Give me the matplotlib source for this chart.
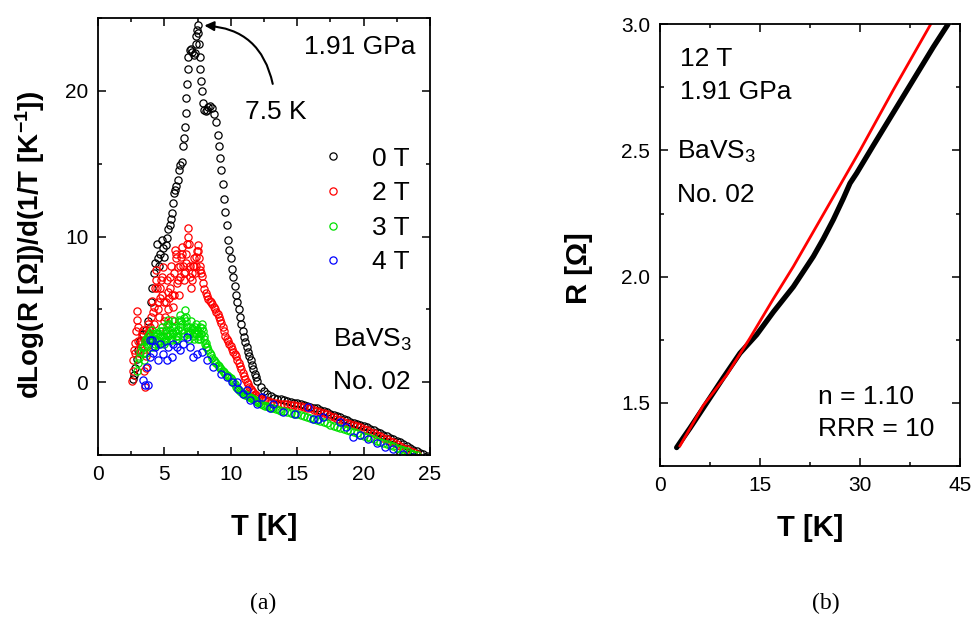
# BaVS3 No. 02 at 1.91 GPa: (a) dLog(R)/d(1/T) vs T for several fields, (b) R vs T at 12 T with power-law fit

import matplotlib
matplotlib.use('Agg')
import matplotlib.pyplot as plt
from matplotlib.ticker import MultipleLocator

plt.rcParams['font.family'] = ['Liberation Sans', 'DejaVu Sans']
plt.rcParams['mathtext.default'] = 'regular'

#################################################################################
# dados (painel a)

T_0T = [2.6, 2.7, 2.8, 2.9, 3.0, 3.2, 3.4, 3.6, 3.8, 4.0, 4.1, 4.2, 4.3, 4.45, 4.5, 4.6, 4.7, 4.8,
        4.9, 5.0, 5.1, 5.2, 5.3, 5.42, 5.5, 5.57, 5.65, 5.75, 5.8, 5.9, 6.0, 6.1, 6.2, 6.3, 6.4,
        6.5, 6.55, 6.6, 6.65, 6.7, 6.75, 6.8, 6.9, 7.0, 7.1, 7.2, 7.3, 7.35, 7.4, 7.45, 7.5, 7.55,
        7.6, 7.65, 7.7, 7.75, 7.8, 7.9, 8.0, 8.1, 8.2, 8.3, 8.45, 8.6, 8.75, 8.9, 9.0, 9.1, 9.2,
        9.3, 9.4, 9.5, 9.6, 9.7, 9.8, 9.9, 10.0, 10.1, 10.2, 10.3, 10.4, 10.5, 10.6, 10.7, 10.8,
        10.9, 11.0, 11.1, 11.2, 11.3, 11.4, 11.5, 11.6, 11.7, 11.8, 11.9, 12.0, 12.25, 12.5, 12.75,
        13.0, 13.25, 13.5, 13.75, 14.0, 14.25, 14.5, 14.75, 15.0, 15.25, 15.5, 15.75, 16.0, 16.25,
        16.5, 16.75, 17.0, 17.25, 17.5, 17.75, 18.0, 18.25, 18.5, 18.75, 19.0, 19.25, 19.5, 19.75,
        20.0, 20.25, 20.5, 20.75, 21.0, 21.25, 21.5, 21.75, 22.0, 22.25, 22.5, 22.75, 23.0, 23.25,
        23.5, 23.75, 24.0, 24.25, 24.5, 24.75]
v_0T = [0.2, 0.5, 1.0, 1.6, 2.2, 2.8, 3.3, 3.6, 4.2, 5.5, 6.5, 7.5, 8.2, 9.5, 8.5, 8.0, 8.8, 9.8,
        9.2, 8.6, 9.4, 9.9, 10.5, 10.8, 11.2, 11.6, 12.3, 13.0, 13.2, 13.5, 13.9, 14.6, 14.9, 15.1, 16.2,
        16.8, 17.5, 18.5, 19.5, 20.5, 21.5, 22.3, 22.8, 22.9, 22.7, 22.5, 22.6, 23.2, 23.8, 24.2, 24.5, 24.0,
        23.2, 22.3, 21.5, 20.7, 20.0, 19.2, 18.7, 18.6, 18.7, 18.9, 19.0, 18.8, 18.4, 17.9, 17.0, 16.2, 15.4,
        14.6, 13.6, 12.6, 11.7, 10.8, 9.8, 9.1, 8.5, 7.8, 7.2, 6.6, 6.0, 5.5, 5.0, 4.5, 4.0,
        3.5, 3.1, 2.75, 2.4, 2.1, 1.8, 1.5, 1.2, 0.9, 0.6, 0.35, 0.1, -0.35, -0.6, -0.8,
        -0.95, -1.05, -1.12, -1.18, -1.25, -1.3, -1.35, -1.4, -1.45, -1.5, -1.55, -1.62, -1.7, -1.75,
        -1.8, -1.88, -1.95, -2.05, -2.15, -2.22, -2.3, -2.4, -2.5, -2.6, -2.7, -2.78, -2.85, -2.92,
        -3.0, -3.1, -3.2, -3.3, -3.4, -3.5, -3.6, -3.7, -3.8, -3.9, -4.0, -4.12, -4.25, -4.38,
        -4.5, -4.62, -4.75, -4.85, -4.95, -5.05]

T_2T = [2.55, 2.6, 2.65, 2.7, 2.75, 2.8, 2.85, 2.9, 2.95, 3.0, 3.05, 3.1, 3.2, 3.3, 3.4, 3.45, 3.5,
        3.55, 3.6, 3.7, 3.8, 3.9, 4.0, 4.1, 4.2, 4.3, 4.4, 4.5, 4.6, 4.7, 4.8, 4.9, 5.0, 5.1, 5.2,
        5.3, 5.4, 5.5, 5.6, 5.7, 5.8, 5.9, 6.0, 6.1, 6.2, 6.3, 6.4, 6.5, 6.6, 6.7, 6.8, 6.85, 6.9,
        7.0, 7.1, 7.2, 7.3, 7.4, 7.5, 7.6, 7.7, 7.8, 7.9, 8.0, 8.2, 8.4, 8.6, 8.8, 9.0, 9.2, 9.4,
        9.6, 9.8, 10.0, 10.2, 10.4, 10.6, 10.8, 11.0, 11.2, 11.4, 11.6, 11.8, 12.0, 12.3, 12.6, 13.0,
        13.5, 14.0, 14.5, 15.0, 15.5, 16.0, 16.5, 17.0, 17.5, 18.0, 18.5, 19.0, 19.5, 20.0, 20.5,
        21.0, 21.5, 22.0, 22.5, 23.0, 23.5, 24.0,
        # colunas densas de pontos entre 3 K e 8 K
        3.25, 3.35, 3.65, 3.75, 3.85, 3.95, 4.05, 4.15, 4.25, 4.35, 4.45, 4.55, 4.65, 4.75, 4.85,
        4.95, 5.05, 5.15, 5.25, 5.35, 5.45, 5.55, 5.65, 5.75, 5.85, 5.95, 6.05, 6.15, 6.25, 6.35,
        6.45, 6.55, 6.65, 6.75, 6.95, 7.05, 7.15, 7.25, 7.35, 7.45, 7.55, 7.65, 7.75,
        # cauda
        8.1, 8.3, 8.5, 8.7, 8.9, 9.1, 9.3, 9.5, 9.7, 9.9, 10.1, 10.3, 10.5, 10.7, 10.9, 11.1, 11.3,
        11.5, 11.7, 11.9, 12.15, 12.45, 12.8, 13.25, 13.75, 14.25, 14.75, 15.25, 15.75, 16.25,
        16.75, 17.25, 17.75, 18.25, 18.75, 19.25, 19.75, 20.25, 20.75, 21.25, 21.75, 22.25, 22.75,
        23.25, 23.75]
v_2T = [0.1, 0.8, 1.5, 2.2, 2.7, 2.0, 3.5, 4.3, 4.9, 3.8, 2.8, 2.0, 2.6, 3.2, 3.6, 2.0, 0.8,
        -0.3, 1.0, 2.5, 4.0, 3.0, 4.5, 5.6, 4.0, 6.5, 7.7, 5.5, 4.5, 6.5, 7.2, 7.9, 5.5, 3.6, 7.0,
        5.0, 6.5, 8.0, 4.3, 6.0, 9.1, 8.5, 7.9, 6.0, 8.0, 9.3, 8.0, 7.0, 8.2, 9.5, 10.6, 9.5, 8.0,
        6.5, 7.5, 8.5, 7.5, 8.6, 9.4, 8.5, 7.7, 7.3, 6.8, 6.4, 5.9, 5.6, 5.4, 5.0, 4.7, 4.3, 3.8,
        3.2, 2.8, 2.5, 2.1, 1.8, 1.3, 0.9, 0.4, 0.0, -0.3, -0.6, -0.8, -1.0, -1.15, -1.25, -1.35,
        -1.45, -1.5, -1.55, -1.6, -1.7, -1.8, -1.95, -2.1, -2.3, -2.5, -2.7, -2.85, -3.0, -3.2, -3.4,
        -3.6, -3.8, -4.0, -4.25, -4.5, -4.7, -4.9,
        2.8, 3.4, 1.8, 3.3, 3.6, 3.8, 3.0, 4.8, 5.2, 7.0, 6.5, 5.0, 5.8, 7.0, 6.0,
        4.2, 4.5, 5.5, 6.2, 5.8, 7.2, 6.0, 5.2, 7.5, 8.8, 6.8, 7.0, 7.2, 8.6, 8.8,
        7.5, 7.6, 8.8, 10.0, 7.2, 7.0, 8.0, 8.0, 8.0, 9.0, 9.0, 8.0, 7.5,
        6.1, 5.75, 5.5, 5.2, 4.85, 4.5, 4.05, 3.5, 3.0, 2.65, 2.3, 1.95, 1.55, 1.1, 0.65, 0.2, -0.15,
        -0.45, -0.7, -0.9, -1.08, -1.2, -1.3, -1.4, -1.48, -1.52, -1.58, -1.65, -1.75, -1.88,
        -2.02, -2.2, -2.4, -2.6, -2.78, -2.92, -3.1, -3.3, -3.5, -3.7, -3.9, -4.12, -4.38,
        -4.6, -4.8]

T_3T = [2.95, 3.0, 3.1, 3.2, 3.3, 3.4, 3.5, 3.6, 3.7, 3.8, 3.9, 4.0, 4.1, 4.2, 4.3, 4.4, 4.5, 4.6,
        4.7, 4.8, 4.9, 5.0, 5.1, 5.2, 5.3, 5.4, 5.5, 5.6, 5.7, 5.8, 5.9, 6.0, 6.1, 6.2, 6.3, 6.4,
        6.5, 6.55, 6.6, 6.7, 6.8, 6.9, 7.0, 7.1, 7.2, 7.3, 7.4, 7.5, 7.6, 7.7, 7.8, 7.9, 8.0, 8.1,
        8.2, 8.3, 8.4, 8.5, 8.6, 8.7, 8.8, 8.9, 9.0, 9.2, 9.4, 9.6, 9.8, 10.0, 10.2, 10.4, 10.6,
        10.8, 11.0, 11.2, 11.4, 11.6, 11.8, 12.0, 12.3, 12.6, 12.9, 13.2, 13.6, 14.0, 14.5, 15.0,
        15.5, 16.0, 16.5, 17.0, 17.5, 18.0, 18.5, 19.0, 19.5, 20.0, 20.5, 21.0, 21.5, 22.0, 22.5,
        23.0, 23.5, 24.0,
        # colunas densas de pontos entre 3 K e 8 K
        3.45, 3.55, 3.65, 3.75, 4.05, 4.15, 4.25, 4.35, 4.55, 4.65, 4.75, 4.85, 4.95, 5.05, 5.15,
        5.25, 5.35, 5.45, 5.55, 5.65, 5.75, 5.85, 5.95, 6.05, 6.15, 6.25, 6.35, 6.45, 6.65, 6.75,
        6.85, 6.95, 7.05, 7.15, 7.25, 7.35, 7.45, 7.55, 7.65, 7.75, 7.85, 7.95, 8.05, 8.15,
        # cauda
        9.1, 9.3, 9.5, 9.7, 9.9, 10.1, 10.3, 10.5, 10.7, 10.9, 11.1, 11.3, 11.5, 11.7, 11.9, 12.15,
        12.45, 12.75, 13.05, 13.4, 13.8, 14.25, 14.75, 15.25, 15.75, 16.25, 16.75, 17.25, 17.75,
        18.25, 18.75, 19.25, 19.75, 20.25, 20.75, 21.25, 21.75, 22.25, 22.75, 23.25, 23.75]
v_3T = [0.8, 1.3, 1.7, 2.1, 2.4, 2.0, 2.4, 3.0, 2.6, 3.2, 3.4, 3.0, 3.6, 3.2, 2.6, 3.0, 3.3, 2.8,
        3.5, 3.8, 3.2, 2.6, 3.4, 3.9, 4.3, 3.6, 3.0, 3.8, 4.2, 3.5, 3.0, 3.6, 4.3, 4.6, 4.0, 3.4,
        4.4, 4.95, 4.5, 3.8, 3.3, 3.8, 4.2, 3.7, 3.4, 3.8, 4.0, 3.5, 3.2, 3.8, 4.0, 3.5, 3.0, 2.7,
        2.4, 2.2, 2.0, 1.9, 1.7, 1.5, 1.4, 1.3, 1.2, 1.0, 0.8, 0.6, 0.45, 0.3, 0.0, -0.3, -0.5,
        -0.7, -0.8, -0.9, -1.0, -1.1, -1.2, -1.35, -1.5, -1.6, -1.7, -1.8, -1.9, -2.0, -2.1, -2.2,
        -2.3, -2.45, -2.6, -2.75, -2.9, -3.05, -3.2, -3.35, -3.5, -3.7, -3.85, -4.0, -4.15, -4.3, -4.5,
        -4.65, -4.85, -5.0,
        1.5, 2.8, 2.0, 2.9, 2.4, 3.3, 2.5, 3.4, 2.6, 3.2, 2.7, 3.5, 2.8, 3.0, 2.8,
        3.2, 4.0, 3.3, 2.9, 3.4, 3.8, 3.2, 2.9, 3.2, 3.8, 4.2, 3.6, 3.2, 4.2, 3.5,
        3.0, 3.4, 3.6, 3.2, 3.0, 3.3, 3.6, 3.0, 3.0, 3.3, 3.7, 3.2, 2.6, 2.4,
        1.1, 0.9, 0.7, 0.5, 0.38, 0.15, -0.15, -0.4, -0.6, -0.75, -0.85, -0.95, -1.05, -1.15, -1.28,
        -1.42, -1.55, -1.65, -1.75, -1.85, -1.95, -2.05, -2.15, -2.25, -2.38, -2.52, -2.68, -2.82,
        -2.98, -3.12, -3.28, -3.42, -3.6, -3.78, -3.92, -4.08, -4.22, -4.4, -4.58, -4.75, -4.92]

T_4T = [3.41, 3.54, 3.66, 3.79, 3.92, 3.92, 4.04, 4.15, 4.29, 4.54, 4.67, 4.92, 5.17, 5.3, 5.55,
        5.67, 5.92, 6.17, 6.42, 6.68, 6.93, 7.18, 7.43, 7.8, 8.18, 8.68, 9.3, 9.7, 10.07, 10.44,
        10.57, 10.95, 11.2, 11.45, 11.95, 12.33, 12.95, 13.2, 13.95, 14.83, 15.84, 16.2, 16.6,
        16.97, 18.2, 18.7, 19.2, 19.7, 20.35, 21.0, 21.6, 22.2, 23.0, 23.7]
v_4T = [0.14, -0.2, 1.05, -0.2, 1.74, 2.9, 2.9, 2.0, 2.4, 1.5, 2.66, 1.97, 1.5, 2.4, 1.74,
        2.66, 2.4, 2.2, 2.66, 3.1, 2.4, 1.74, 1.97, 2.1, 1.5, 1.05, 0.6, 0.36, 0.02, 0.02,
        -0.44, -0.78, -0.55, -1.24, -1.47, -1.0, -1.8, -1.47, -2.04, -2.15, -1.7, -2.5, -2.5,
        -2.38, -2.7, -3.07, -3.76, -3.64, -3.87, -4.2, -4.45, -4.56, -4.9, -5.1]

series_a = [(T_0T, v_0T, 'black', '0 T'),
            (T_2T, v_2T, 'red', '2 T'),
            (T_3T, v_3T, '#00e000', '3 T'),
            (T_4T, v_4T, 'blue', '4 T')]

# dados (painel b)
T_b = [2.5, 3.5, 4.5, 6.0, 7.75, 9.5, 12.0, 14.5, 17.0, 20.0, 23.0, 24.5, 26.0, 27.5, 28.5,
       29.5, 32.0, 35.0, 38.0, 41.0, 43.2]
R_b = [1.323, 1.362, 1.40, 1.46, 1.53, 1.60, 1.697, 1.77, 1.86, 1.96, 2.08, 2.15, 2.226, 2.31,
       2.37, 2.41, 2.52, 2.65, 2.78, 2.91, 3.0]

T_fit = [3.0, 6.5, 10.0, 13.5, 17.0, 20.0, 25.0, 30.0, 35.0, 40.6]
R_fit = [1.33, 1.49, 1.61, 1.757, 1.912, 2.04, 2.27, 2.50, 2.74, 3.0]

#################################################################################

fig = plt.figure(figsize=(9.77, 6.26), dpi=100)

ax1 = fig.add_axes([0.1003, 0.273, 0.3398, 0.698])
ax2 = fig.add_axes([0.6755, 0.2556, 0.3071, 0.7056])

fs_tick = 15
fs_text = 19
fs_label = 21

for ax in (ax1, ax2):
    ax.tick_params(which='both', direction='in', top=True, right=True, width=1.1)
    ax.tick_params(which='major', length=6, labelsize=fs_tick, pad=7)
    ax.tick_params(which='minor', length=3)
    for s in ax.spines.values():
        s.set_linewidth(1.3)

# painel (a)
for T, v, cor, rotulo in series_a:
    ax1.plot(T, v, linestyle='none', marker='o', markersize=5.2, markerfacecolor='none',
             markeredgecolor=cor, markeredgewidth=0.9, label=rotulo)

ax1.set_xlim(0, 25)
ax1.set_ylim(-5, 25)
ax1.xaxis.set_major_locator(MultipleLocator(5))
ax1.xaxis.set_minor_locator(MultipleLocator(2.5))
ax1.yaxis.set_major_locator(MultipleLocator(10))
ax1.yaxis.set_minor_locator(MultipleLocator(5))
ax1.set_xlabel('T [K]', fontsize=fs_label, fontweight='bold', labelpad=21)
ax1.set_ylabel('dLog(R [Ω])/d(1/T [K$^{-1}$])', fontsize=20, fontweight='bold')
ax1.yaxis.set_label_coords(-0.154, 0.48)

ax1.text(23.9, 23.0, '1.91 GPa', fontsize=fs_text, ha='right', va='center')
ax1.text(11.07, 18.56, '7.5 K', fontsize=fs_text, ha='left', va='center')
ax1.annotate('', xy=(7.8, 24.5), xytext=(13.2, 20.3),
             arrowprops=dict(arrowstyle='-|>', color='black', lw=1.5,
                             connectionstyle='arc3,rad=0.4', mutation_scale=14))
ax1.text(17.7, 2.9, 'BaVS$_3$', fontsize=fs_text, ha='left', va='center')
ax1.text(17.7, 0.0, 'No. 02', fontsize=fs_text, ha='left', va='center')

ax1.legend(loc='upper left', bbox_to_anchor=(0.635, 0.73), frameon=False, fontsize=fs_text,
           handlelength=1.0, handletextpad=1.0, labelspacing=0.4, markerscale=1.0,
           borderaxespad=0)

# painel (b)
ax2.plot(T_b, R_b, color='black', linewidth=3.8, solid_capstyle='round')
ax2.plot(T_fit, R_fit, color='red', linewidth=2)

ax2.set_xlim(0, 45)
ax2.set_ylim(1.25, 3.0)
ax2.xaxis.set_major_locator(MultipleLocator(15))
ax2.xaxis.set_minor_locator(MultipleLocator(7.5))
ax2.yaxis.set_major_locator(MultipleLocator(0.5))
ax2.yaxis.set_minor_locator(MultipleLocator(0.25))
ax2.set_xlabel('T [K]', fontsize=fs_label, fontweight='bold', labelpad=14)
ax2.set_ylabel('R [Ω]', fontsize=fs_label, fontweight='bold')
ax2.yaxis.set_label_coords(-0.223, 0.449)

ax2.text(3.0, 2.863, '12 T', fontsize=fs_text, ha='left', va='center')
ax2.text(3.0, 2.732, '1.91 GPa', fontsize=fs_text, ha='left', va='center')
ax2.text(2.55, 2.495, 'BaVS$_3$', fontsize=fs_text, ha='left', va='center')
ax2.text(2.55, 2.325, 'No. 02', fontsize=fs_text, ha='left', va='center')
ax2.text(23.7, 1.523, 'n = 1.10', fontsize=fs_text, ha='left', va='center')
ax2.text(23.7, 1.395, 'RRR = 10', fontsize=fs_text, ha='left', va='center')

fig.text(263 / 977, 1 - 603 / 626, '(a)', fontsize=17, family='Liberation Serif',
         ha='center', va='center')
fig.text(826 / 977, 1 - 603 / 626, '(b)', fontsize=17, family='Liberation Serif',
         ha='center', va='center')

fig.savefig('out.png', dpi=100)
